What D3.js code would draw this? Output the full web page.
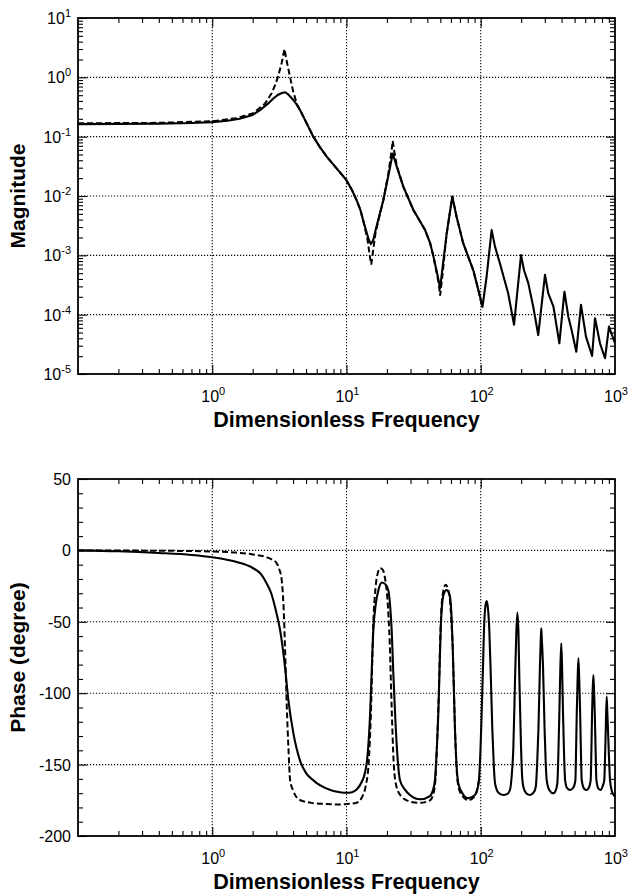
<!DOCTYPE html>
<html>
<head>
<meta charset="utf-8">
<script src="https://cdn.jsdelivr.net/npm/d3@7"></script>
<style>
  body { margin: 0; background: #ffffff; }
  svg { display: block; font-family: "Liberation Sans", Arial, sans-serif; }
</style>
</head>
<body>
<div id="chart"></div>
<script>
"use strict";

// [frequency, magnitude]
const magSolid = [
  [0.1, 0.163], [0.2, 0.164], [0.4, 0.166], [0.7, 0.170], [1.0, 0.176], [1.3, 0.186],
  [1.6, 0.200], [2.0, 0.232], [2.27, 0.28], [2.6, 0.36], [2.85, 0.44], [3.1, 0.51],
  [3.3, 0.545], [3.5, 0.56], [3.7, 0.51], [4.0, 0.42], [4.25, 0.35], [4.51, 0.28],
  [5.0, 0.176], [5.66, 0.10], [6.3, 0.068], [7.12, 0.046], [8.5, 0.0287], [9.97, 0.0186],
  [11.0, 0.0125], [11.9, 0.0085], [12.7, 0.0058], [13.3, 0.0039], [14.0, 0.0026],
  [14.7, 0.0018], [15.2, 0.00155], [15.8, 0.0018], [16.5, 0.0027], [18.8, 0.0085],
  [20.5, 0.022], [22.1, 0.052], [23.7, 0.031], [26.5, 0.0144], [31.5, 0.0058],
  [38.5, 0.00267], [42, 0.0016], [44.4, 0.00096], [47.5, 0.00048], [49.8, 0.00028],
  [55.7, 0.0023], [61.4, 0.0098], [66, 0.0045], [74, 0.0016], [88, 0.00056], [96, 0.00026],
  [103, 0.000136], [110.6, 0.00044], [120.5, 0.00267], [127.7, 0.0014], [139, 0.00073],
  [160, 0.00023], [177, 0.0000676], [199.5, 0.00101], [210, 0.00056], [226, 0.00034],
  [246, 0.000136], [268, 0.0000454], [301, 0.00047], [318, 0.00023], [348, 0.000136],
  [385, 0.0000329], [420, 0.000244], [449, 0.0000925], [475, 0.000055], [515, 0.0000238],
  [558, 0.000146], [608, 0.0000427], [675, 0.0000201], [710, 0.000087], [773, 0.0000329],
  [843, 0.0000184], [902, 0.000063], [1000, 0.000033]
];

const magDashed = [
  [0.1, 0.168], [0.4, 0.171], [1.0, 0.182], [1.5, 0.205], [2.0, 0.245], [2.47, 0.36],
  [2.77, 0.54], [2.95, 0.75], [3.1, 1.05], [3.3, 1.8], [3.45, 3.0], [3.6, 1.8],
  [3.79, 1.03], [4.02, 0.56], [4.3, 0.34], [4.51, 0.28], [5.0, 0.176], [5.66, 0.10],
  [6.3, 0.068], [7.12, 0.046], [8.5, 0.0287], [9.97, 0.0186], [11.0, 0.0125],
  [11.9, 0.0085], [12.7, 0.0058], [13.3, 0.0039], [14.3, 0.0019], [15.0, 0.0009],
  [15.3, 0.0007], [15.7, 0.0011], [16.5, 0.0025], [18.8, 0.0085], [20.5, 0.024],
  [21.7, 0.06], [22.1, 0.085], [22.6, 0.06], [23.7, 0.032], [26.5, 0.0144], [31.5, 0.0058],
  [38.5, 0.00267], [42, 0.0016], [44.4, 0.00096], [48.5, 0.00035], [49.8, 0.00021],
  [51.5, 0.0004], [55.7, 0.0023], [61.4, 0.0098], [66, 0.0045], [74, 0.0016],
  [88, 0.00056], [96, 0.00026], [103, 0.00013]
];

// [frequency, phase in degrees]
const phaseSolid = [
  [0.1, 0], [0.2, -0.6], [0.4, -1.8], [0.7, -3.2], [1.0, -4.8], [1.5, -8], [2.02, -12.5],
  [2.3, -16.5], [2.54, -23], [2.75, -30], [2.93, -39.4], [3.2, -55.7], [3.48, -81.4],
  [3.69, -104.8], [4.02, -128], [4.5, -147], [5.0, -156], [5.67, -161], [6.0, -163],
  [7.0, -166.5], [8.0, -168.5], [9.2, -169.5], [10, -169.7], [11.0, -169.3], [11.9, -167.5],
  [13.0, -162], [13.7, -156], [14.3, -145], [15.0, -114], [15.4, -85], [15.85, -55.7],
  [16.5, -38], [17.3, -27.7], [18.3, -22.5], [19.4, -23.5], [20.5, -28], [21.1, -38],
  [21.7, -55.7], [22.3, -85], [23.0, -114], [24, -145], [25, -160.8], [27, -167],
  [29.7, -171.3], [35.3, -174.3], [41.9, -172], [44, -168], [45.6, -160.8], [47, -140],
  [48.3, -114], [49.3, -85], [50.3, -55.7], [51.5, -38], [53.2, -30], [55.7, -27.7],
  [58, -30], [59, -32.4], [60.5, -45], [61.8, -67.4], [64.3, -125.8], [66, -150],
  [68, -163], [73, -170], [80.8, -173.6], [90.5, -171.3], [94, -168], [97, -160.8],
  [99.5, -140], [101.6, -114], [103.7, -85], [105.7, -55.7], [108, -40], [110.6, -35.5],
  [113, -40], [115.8, -55.7], [119, -90], [122, -125.8], [125, -150], [127.7, -163],
  [135, -169.5], [147, -171.3], [158, -170.5], [165, -167.8], [170, -158], [175, -137.5],
  [180, -90.8], [184, -58], [187.5, -43.5], [191, -58], [194, -90.8], [199.5, -137.5],
  [203, -157], [207.6, -165.5], [218, -170], [233, -171.3], [248, -169.5], [257, -165.5],
  [263, -150], [268.8, -125.8], [276, -81.4], [280, -62], [282.5, -54.5], [285, -62],
  [291, -81.4], [299, -125.8], [305, -150], [310, -160.8], [325, -168], [347.5, -170.1],
  [362, -168], [372, -163], [378, -145], [385, -114], [391, -85], [398, -65], [404, -85],
  [410, -114], [418, -145], [425, -160.8], [440, -166.5], [463, -167.8], [490, -166],
  [507, -160.8], [513, -140], [519, -114], [526, -92], [534, -75.5], [542, -92], [550, -114],
  [557, -140], [565, -160.8], [590, -167], [615, -167.8], [640, -166], [659, -160.8],
  [667, -140], [675, -114], [682, -98], [690, -87.3], [698, -98], [707, -114], [717, -140],
  [727, -160.8], [755, -167], [783, -167.8], [810, -165], [832, -160.8], [843, -145],
  [853, -125.8], [867, -102.4], [877, -114], [887, -125.8], [902, -145], [918, -160.8],
  [950, -169], [1000, -172.5]
];

const phaseDashed = [
  [0.1, 0], [0.5, -0.3], [1.0, -0.8], [1.5, -1.5], [2.0, -2.8], [2.54, -4.8], [2.8, -6.5],
  [3.02, -9], [3.15, -13], [3.29, -20.7], [3.4, -40], [3.48, -67], [3.59, -109],
  [3.7, -140], [3.8, -160.8], [4.0, -168], [4.5, -174.8], [5.5, -176.8], [7, -177.6],
  [9, -178], [10, -177.6], [11.9, -176.7], [13, -173], [13.9, -165], [14.6, -150],
  [15.2, -114], [15.85, -50], [16.5, -25], [17.2, -15], [17.8, -12.5], [18.6, -13.5],
  [19.4, -20], [20.2, -35], [21.0, -65], [21.7, -110], [22.5, -150], [23.5, -165],
  [25.5, -172], [30, -176], [35.3, -176.8], [41.9, -175], [44.5, -170], [46, -160],
  [47.5, -130], [48.7, -100], [49.8, -65], [51, -40], [52.5, -29], [54.8, -24], [57, -27],
  [59, -35], [60.5, -50], [61.8, -67.4], [64.3, -125.8], [66, -152], [68, -165],
  [73, -172], [80.8, -175], [90.5, -172], [97, -161]
];

const freqDomain = [0.1, 1000];
const freqMajor = [1, 10, 100];
const freqLabels = [1, 10, 100, 1000];
const magDomain = [1e-5, 10];
const magLabels = [1e1, 1e0, 1e-1, 1e-2, 1e-3, 1e-4, 1e-5];
const magGrid = [1e0, 1e-1, 1e-2, 1e-3, 1e-4];
const phaseDomain = [-200, 50];
const phaseLabels = [50, 0, -50, -100, -150, -200];
const phaseGrid = [0, -50, -100, -150];

const width = 628;
const height = 895;
const left = 78;
const right = 615;

const svg = d3.select("#chart").append("svg")
  .attr("width", width)
  .attr("height", height)
  .attr("viewBox", `0 0 ${width} ${height}`);

function logMinors(domain) {
  const out = [];
  for (let e = Math.round(Math.log10(domain[0])); e < Math.round(Math.log10(domain[1])); e++) {
    for (let k = 2; k <= 9; k++) out.push(k * Math.pow(10, e));
  }
  return out;
}

function pow10Label(sel, d) {
  const exp = Math.round(Math.log10(d));
  sel.append("tspan").attr("font-size", 16).text("10");
  sel.append("tspan").attr("font-size", 11).attr("dy", -7).text(String(exp));
}

function drawPanel(cfg) {
  const top = cfg.top;
  const bottom = cfg.bottom;
  const g = svg.append("g");

  const x = d3.scaleLog().domain(freqDomain).range([left, right]);
  const y = cfg.y.range([bottom, top]);

  const clipId = `clip-${cfg.name}`;
  g.append("clipPath").attr("id", clipId)
    .append("rect")
    .attr("x", left).attr("y", top)
    .attr("width", right - left).attr("height", bottom - top);

  // dotted grid
  g.append("g").selectAll("line")
    .data(freqMajor)
    .join("line")
    .attr("x1", (d) => x(d)).attr("x2", (d) => x(d))
    .attr("y1", top).attr("y2", bottom)
    .attr("stroke", "#000").attr("stroke-width", 1.1)
    .attr("stroke-dasharray", "1.2,1.8");

  g.append("g").selectAll("line")
    .data(cfg.grid)
    .join("line")
    .attr("x1", left).attr("x2", right)
    .attr("y1", (d) => y(d)).attr("y2", (d) => y(d))
    .attr("stroke", "#000").attr("stroke-width", 1.1)
    .attr("stroke-dasharray", "1.2,1.8");

  // inward ticks on all four sides
  const xMinor = logMinors(freqDomain);
  const tickAxes = [
    [d3.axisBottom(x).tickValues(freqMajor).tickSize(-9), `translate(0,${bottom})`],
    [d3.axisBottom(x).tickValues(xMinor).tickSize(-5), `translate(0,${bottom})`],
    [d3.axisTop(x).tickValues(freqMajor).tickSize(-9), `translate(0,${top})`],
    [d3.axisTop(x).tickValues(xMinor).tickSize(-5), `translate(0,${top})`],
    [d3.axisLeft(y).tickValues(cfg.yMajor).tickSize(-9), `translate(${left},0)`],
    [d3.axisLeft(y).tickValues(cfg.yMinor).tickSize(-5), `translate(${left},0)`],
    [d3.axisRight(y).tickValues(cfg.yMajor).tickSize(-9), `translate(${right},0)`],
    [d3.axisRight(y).tickValues(cfg.yMinor).tickSize(-5), `translate(${right},0)`]
  ];
  tickAxes.forEach(([axis, tr]) => {
    const a = g.append("g")
      .attr("transform", tr)
      .call(axis.tickSizeOuter(0).tickFormat(""));
    a.select(".domain").remove();
    a.selectAll(".tick line").attr("stroke", "#000").attr("stroke-width", 1.1);
  });

  // curves
  const line = d3.line()
    .x((d) => x(d[0]))
    .y((d) => y(d[1]))
    .curve(cfg.curve);

  const curves = g.append("g").attr("clip-path", `url(#${clipId})`);
  curves.append("path")
    .datum(cfg.dashed)
    .attr("d", line)
    .attr("fill", "none")
    .attr("stroke", "#000")
    .attr("stroke-width", 2)
    .attr("stroke-dasharray", "6,3");
  curves.append("path")
    .datum(cfg.solid)
    .attr("d", line)
    .attr("fill", "none")
    .attr("stroke", "#000")
    .attr("stroke-width", 2.1)
    .attr("stroke-linejoin", "round");

  // frame
  g.append("rect")
    .attr("x", left).attr("y", top)
    .attr("width", right - left).attr("height", bottom - top)
    .attr("fill", "none")
    .attr("stroke", "#000")
    .attr("stroke-width", 1.8);

  // x tick labels
  g.append("g").selectAll("text")
    .data(freqLabels)
    .join("text")
    .attr("x", (d) => x(d) + 1)
    .attr("y", bottom + 28)
    .attr("text-anchor", "middle")
    .attr("fill", "#000")
    .each(function (d) { pow10Label(d3.select(this), d); });

  // y tick labels
  g.append("g").selectAll("text")
    .data(cfg.yLabels)
    .join("text")
    .attr("x", 71)
    .attr("y", (d) => y(d) + 6)
    .attr("text-anchor", "end")
    .attr("fill", "#000")
    .attr("font-size", 16)
    .each(function (d) {
      if (cfg.logY) pow10Label(d3.select(this), d);
      else d3.select(this).text(String(d));
    });

  // axis titles
  g.append("text")
    .attr("x", (left + right) / 2)
    .attr("y", bottom + 53)
    .attr("text-anchor", "middle")
    .attr("font-size", 21.5)
    .attr("font-weight", "bold")
    .attr("fill", "#000")
    .text("Dimensionless Frequency");

  g.append("text")
    .attr("transform", `translate(25,${(top + bottom) / 2}) rotate(-90)`)
    .attr("text-anchor", "middle")
    .attr("font-size", 21)
    .attr("font-weight", "bold")
    .attr("fill", "#000")
    .text(cfg.title);
}

drawPanel({
  name: "mag",
  top: 18,
  bottom: 374,
  y: d3.scaleLog().domain(magDomain),
  logY: true,
  yMajor: magLabels,
  yMinor: logMinors(magDomain),
  yLabels: magLabels,
  grid: magGrid,
  solid: magSolid,
  dashed: magDashed,
  curve: d3.curveLinear,
  title: "Magnitude"
});

drawPanel({
  name: "phase",
  top: 479,
  bottom: 836,
  y: d3.scaleLinear().domain(phaseDomain),
  logY: false,
  yMajor: phaseLabels,
  yMinor: d3.range(-190, 50, 10).filter((v) => v % 50 !== 0),
  yLabels: phaseLabels,
  grid: phaseGrid,
  solid: phaseSolid,
  dashed: phaseDashed,
  curve: d3.curveMonotoneX,
  title: "Phase (degree)"
});
</script>
</body>
</html>
